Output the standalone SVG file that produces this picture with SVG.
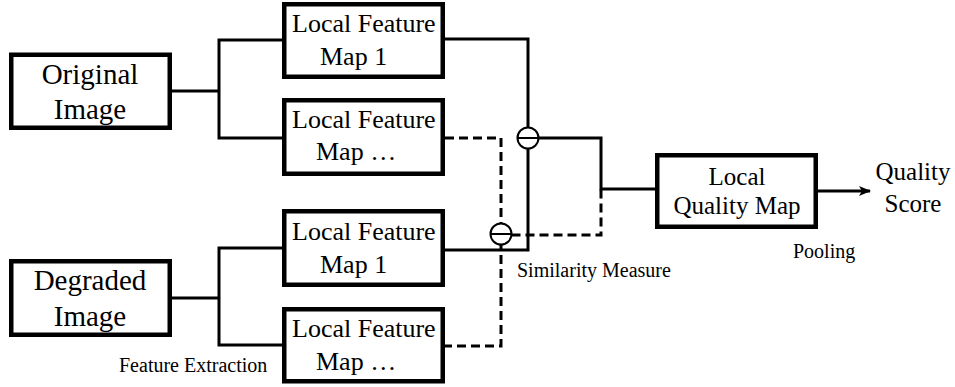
<svg xmlns="http://www.w3.org/2000/svg" width="955" height="387" viewBox="0 0 955 387">
  <style>
    text { font-family: 'Liberation Serif', 'DejaVu Serif', serif; fill: #000; }
    .box { fill: #fff; stroke: #000; stroke-width: 4.5; }
    .big { font-size: 29px; }
    .mid { font-size: 26px; }
    .q { font-size: 25px; }
    .small { font-size: 20px; }
    .ln { fill: none; stroke: #000; stroke-width: 3; }
    .dash { fill: none; stroke: #000; stroke-width: 3; stroke-dasharray: 9 5; }
    .circ { fill: #fff; stroke: #000; stroke-width: 2; }
  </style>
  <defs>
    <marker id="arrow" markerWidth="12" markerHeight="10" refX="11" refY="5" orient="auto" markerUnits="userSpaceOnUse">
      <path d="M0,0 L12,5 L0,10 L3,5 Z" fill="#000"/>
    </marker>
  </defs>

  <g id="connectors">
    <path class="ln" d="M172,91 H219"/>
    <path class="ln" d="M282,40 H219 V138 H282"/>
    <path class="ln" d="M172,298 H219"/>
    <path class="ln" d="M282,248 H219 V345 H282"/>
    <path class="ln" d="M445,39 H528 V127.5"/>
    <path class="ln" d="M528,148.5 V250 H445"/>
    <path class="ln" d="M538.5,138 H601 V189 H655"/>
    <path class="dash" d="M445,138 H501 V223.5"/>
    <path class="ln" d="M501,244.5 V251"/>
    <path class="dash" d="M501,255 V346 H445"/>
    <path class="dash" d="M511.5,235 H601 V189"/>
    <path class="ln" d="M818,191 H870" marker-end="url(#arrow)"/>
  </g>

  <g id="sim-upper">
    <circle class="circ" cx="528" cy="138" r="10.5"/>
    <path d="M517.5,138 H538.5" stroke="#000" stroke-width="2"/>
  </g>
  <g id="sim-lower">
    <circle class="circ" cx="501" cy="234" r="10.5"/>
    <path d="M490.5,234 H511.5" stroke="#000" stroke-width="2"/>
  </g>

  <g id="original">
    <rect class="box" x="11.25" y="54.75" width="158.5" height="73"/>
    <text class="big" x="90" y="84" text-anchor="middle">Original</text>
    <text class="big" x="90" y="119" text-anchor="middle">Image</text>
  </g>

  <g id="degraded">
    <rect class="box" x="11.25" y="261.25" width="158.5" height="73.5"/>
    <text class="big" x="90" y="290" text-anchor="middle">Degraded</text>
    <text class="big" x="90" y="326" text-anchor="middle">Image</text>
  </g>

  <g id="lfm-orig-1">
    <rect class="box" x="284.25" y="4.25" width="158.5" height="72.5"/>
    <text class="mid" x="292" y="32">Local Feature</text>
    <text class="mid" x="320" y="65">Map 1</text>
  </g>

  <g id="lfm-orig-n">
    <rect class="box" x="284.25" y="100.25" width="158.5" height="73.5"/>
    <text class="mid" x="292" y="128">Local Feature</text>
    <text class="mid" x="316" y="160">Map …</text>
  </g>

  <g id="lfm-deg-1">
    <rect class="box" x="284.25" y="211.25" width="158.5" height="73.5"/>
    <text class="mid" x="292" y="240">Local Feature</text>
    <text class="mid" x="320" y="273">Map 1</text>
  </g>

  <g id="lfm-deg-n">
    <rect class="box" x="284.25" y="309.25" width="158.5" height="72"/>
    <text class="mid" x="292" y="337">Local Feature</text>
    <text class="mid" x="316" y="370">Map …</text>
  </g>

  <g id="quality-map">
    <rect class="box" x="657.25" y="155.25" width="158.5" height="71.5"/>
    <text class="q" x="737" y="185" text-anchor="middle">Local</text>
    <text class="q" x="737" y="214" text-anchor="middle">Quality Map</text>
  </g>

  <g id="quality-score">
    <text class="q" x="913" y="180" text-anchor="middle">Quality</text>
    <text class="q" x="913" y="212" text-anchor="middle">Score</text>
  </g>

  <g id="labels">
    <text class="small" x="119" y="372">Feature Extraction</text>
    <text class="small" x="517" y="277">Similarity Measure</text>
    <text class="small" x="793" y="258">Pooling</text>
  </g>
</svg>
